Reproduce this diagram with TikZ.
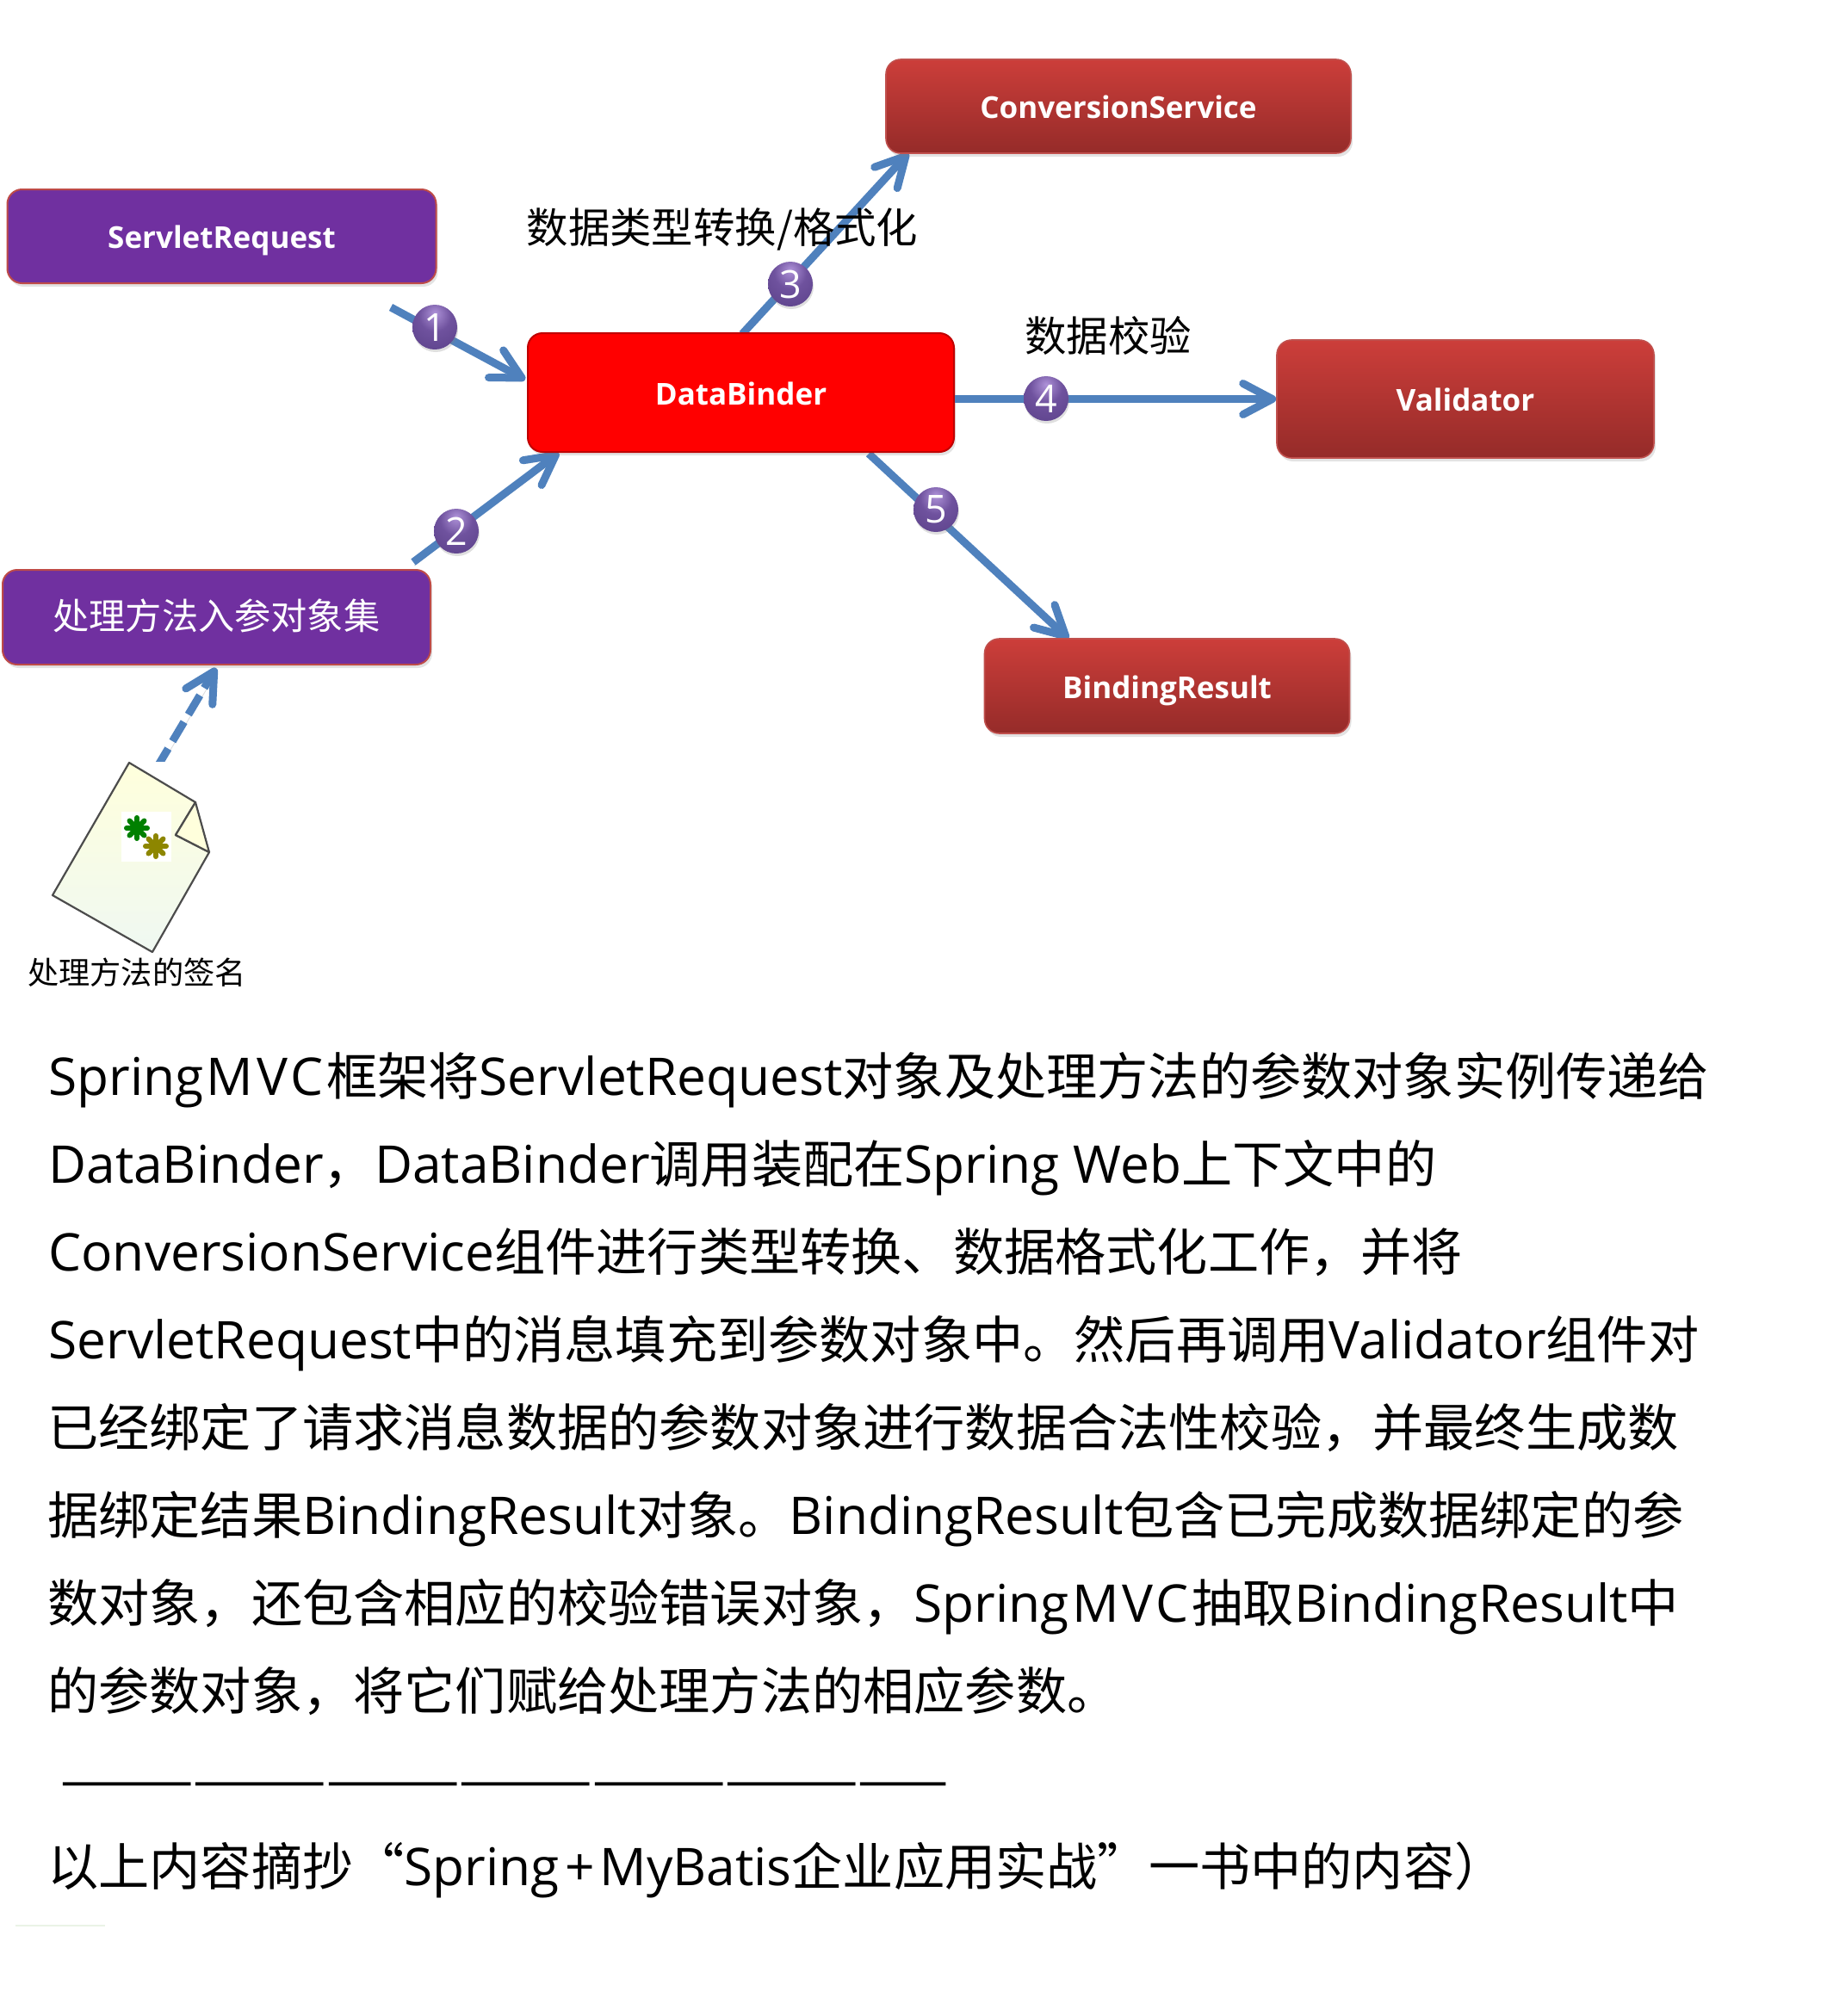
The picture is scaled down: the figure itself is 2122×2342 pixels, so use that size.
\documentclass[tikz,border=0pt]{standalone}
\usepackage{fontspec}
\setmainfont{Open Sans}
\newfontfamily\cjk{Noto Sans CJK SC}
\newcommand{\C}[1]{{\cjk\fontsize{29.6}{32}\selectfont #1}}
\newcommand{\SMVC}{Spring\kern1.5pt M\kern2pt V\kern1.5pt C\kern2pt}
\usetikzlibrary{arrows.meta,shadows}
\definecolor{arrowblue}{HTML}{4F81BD}
\definecolor{purplebox}{HTML}{7030A0}
\definecolor{purpleedge}{HTML}{BE4B48}
\definecolor{redtop}{HTML}{CC3E3A}
\definecolor{redbot}{HTML}{952B29}
\definecolor{redmid}{HTML}{C0504D}
\definecolor{puretop}{HTML}{FF0000}
\definecolor{pureedge}{HTML}{C00000}
\definecolor{ballA}{HTML}{AE92D8}
\definecolor{ballB}{HTML}{6F529E}
\definecolor{ballC}{HTML}{5A4088}
\definecolor{ballD}{HTML}{3A2860}
\definecolor{docyellow}{HTML}{FFFFDC}
\definecolor{docpale}{HTML}{EFF8F2}
\definecolor{stray}{HTML}{EAF3E6}
\pgfdeclareradialshading{ballshade}{\pgfpoint{0bp}{16bp}}{%
  color(0bp)=(ballA); color(18bp)=(ballB); color(45bp)=(ballC); color(62bp)=(ballD); color(100bp)=(ballD)}
\tikzset{
  x=0.5pt,y=-0.5pt,
  boxbase/.style={rounded corners=8.5pt,inner sep=0pt,text=white,align=center,
    drop shadow={opacity=0.22,shadow xshift=1pt,shadow yshift=-2pt},
    text height=14pt,text depth=0pt,
    font=\fontsize{17.5}{20}\selectfont\bfseries},
  purpbox/.style={boxbase,fill=purplebox,draw=purpleedge,line width=1pt},
  redbox/.style={boxbase,top color=redtop,bottom color=redbot,draw=redmid,line width=.8pt},
  topbox/.style={boxbase,fill=puretop,draw=pureedge,line width=1pt},
  conn/.style={draw=arrowblue,line width=4.5pt,
    preaction={draw=black,opacity=.14,transform canvas={xshift=.6pt,yshift=-2pt}},
    -{Straight Barb[length=17pt,width=18pt,round]}},
  ball/.style={circle,minimum size=26pt,inner sep=0pt,text=white,
    shading=ballshade,draw=none,
    font=\fontsize{22.4}{24}\selectfont,
    drop shadow={opacity=0.25,shadow xshift=0.5pt,shadow yshift=-1.5pt}},
  serifnote/.style={inner sep=0pt,text=black},
  bodyline/.style={anchor=base west,inner sep=0pt,text=black,font=\fontsize{30.2}{32}\selectfont},
  spoke/.style={line width=3pt,line cap=round},
}
\begin{document}
\begin{tikzpicture}
\useasboundingbox (0,0) rectangle (2122,2342);
% end points of the connectors
\coordinate (s1) at (454,357);
\coordinate (e1) at (610,441);
\coordinate (s2) at (480,653);
\coordinate (e2) at (649,526);
\coordinate (s3) at (862,388);
\coordinate (e3) at (1055,178);
\coordinate (s5) at (1009,527);
\coordinate (e5) at (1241,742);
\coordinate (s6) at (182,892);
\coordinate (e6) at (251,776);
% connectors
\draw[conn] (s1) -- (e1);
\draw[conn] (s2) -- (e2);
\draw[conn] (s3) -- (e3);
\draw[conn] (s5) -- (e5);
\draw[conn,dash pattern=on 13pt off 5pt] (s6) -- (e6);
% boxes
\node[purpbox,minimum width=249pt,minimum height=54.5pt] (serv) at (257.5,274.5) {ServletRequest};
\node[purpbox,minimum width=248.5pt,minimum height=55pt,text height=16pt,text depth=2pt,font=\cjk\fontsize{21.1}{23}\selectfont] (param) at (251.5,717) {处理方法入参对象集};
\node[redbox,minimum width=270pt,minimum height=54.5pt] (conv) at (1299,123.5) {ConversionService};
\node[redbox,minimum width=219pt,minimum height=68.5pt] (val) at (1702,463.5) {Validator};
\node[redbox,minimum width=212pt,minimum height=55pt] (bind) at (1355.5,797) {BindingResult};
\node[topbox,minimum width=247.5pt,minimum height=69pt] (db) at (860.5,456) {DataBinder};
\draw[conn] (db.east |- val.west) -- (val.west);
% numbered balls
\node[ball] (n1) at (505,380) {1};
\node[ball] (n2) at (530,617) {2};
\node[ball] (n3) at (918,330) {3};
\node[ball] (n4) at (1215,463) {4};
\node[ball] (n5) at (1087,592) {5};
% labels
\node[serifnote,font=\cjk\fontsize{24.2}{27}\selectfont] (lab3) at (839,266) {数据类型转换/格式化};
\node[serifnote,font=\cjk\fontsize{24.2}{27}\selectfont] (lab4) at (1287,390) {数据校验};
% document icon
\path[fill=white] (140,885) rectangle (250,1010);
\shade[top color=docyellow,bottom color=docpale,draw=black!70,line width=1.1pt,line join=round]
  (150,886) -- (227,932) -- (204,970) -- (243,990) -- (177,1106) -- (61,1040) -- cycle;
\fill[docyellow] (227,932) -- (243,990) -- (204,970) -- cycle;
\draw[black!70,line width=1.1pt,line join=round] (227,932) -- (243,990) -- (204,970) -- cycle;
\fill[white] (141,943) rectangle (199,1001);
\foreach \a in {0,45,...,315}{
  \draw[spoke,green!50!black] (159,962) -- ++(\a:12);
  \draw[spoke,olive] (181,983) -- ++(\a:12);
}
\node[serifnote,font=\cjk\fontsize{18.1}{20}\selectfont] (docname) at (159,1130) {处理方法的签名};
% body text
\node[bodyline] (l1) at (56,1272) {\SMVC\C{框架将}ServletRequest\C{对象及处理方法的参数对象实例传递给}};
\node[bodyline] (l2) at (56,1374) {DataBinder\C{，}DataBinder\C{调用装配在}Spring Web\C{上下文中的}};
\node[bodyline] (l3) at (56,1476) {ConversionService\C{组件进行类型转换、数据格式化工作，并将}};
\node[bodyline] (l4) at (56,1578) {ServletRequest\C{中的消息填充到参数对象中。然后再调用}Validator\C{组件对}};
\node[bodyline] (l5) at (55,1680) {\C{已经绑定了请求消息数据的参数对象进行数据合法性校验，并最终生成数}};
\node[bodyline] (l6) at (55,1782) {\C{据绑定结果}BindingResult\C{对象。}BindingResult\C{包含已完成数据绑定的参}};
\node[bodyline] (l7) at (55,1884) {\C{数对象，还包含相应的校验错误对象，}\SMVC\C{抽取}BindingResult\C{中}};
\node[bodyline] (l8) at (55,1986) {\C{的参数对象，将它们赋给处理方法的相应参数。}};
\node[anchor=west,inner sep=0pt,font=\cjk\fontsize{31.4}{34}\selectfont] (rule) at (70,2081) {————————————————————};
\node[bodyline] (l9) at (55,2190) {\C{以上内容摘抄“}Spring\kern3pt+\kern3pt MyBatis\C{企业应用实战”一书中的内容）}};
\draw[stray,line width=.8pt] (18,2237) -- (122,2237);
\end{tikzpicture}
\end{document}
